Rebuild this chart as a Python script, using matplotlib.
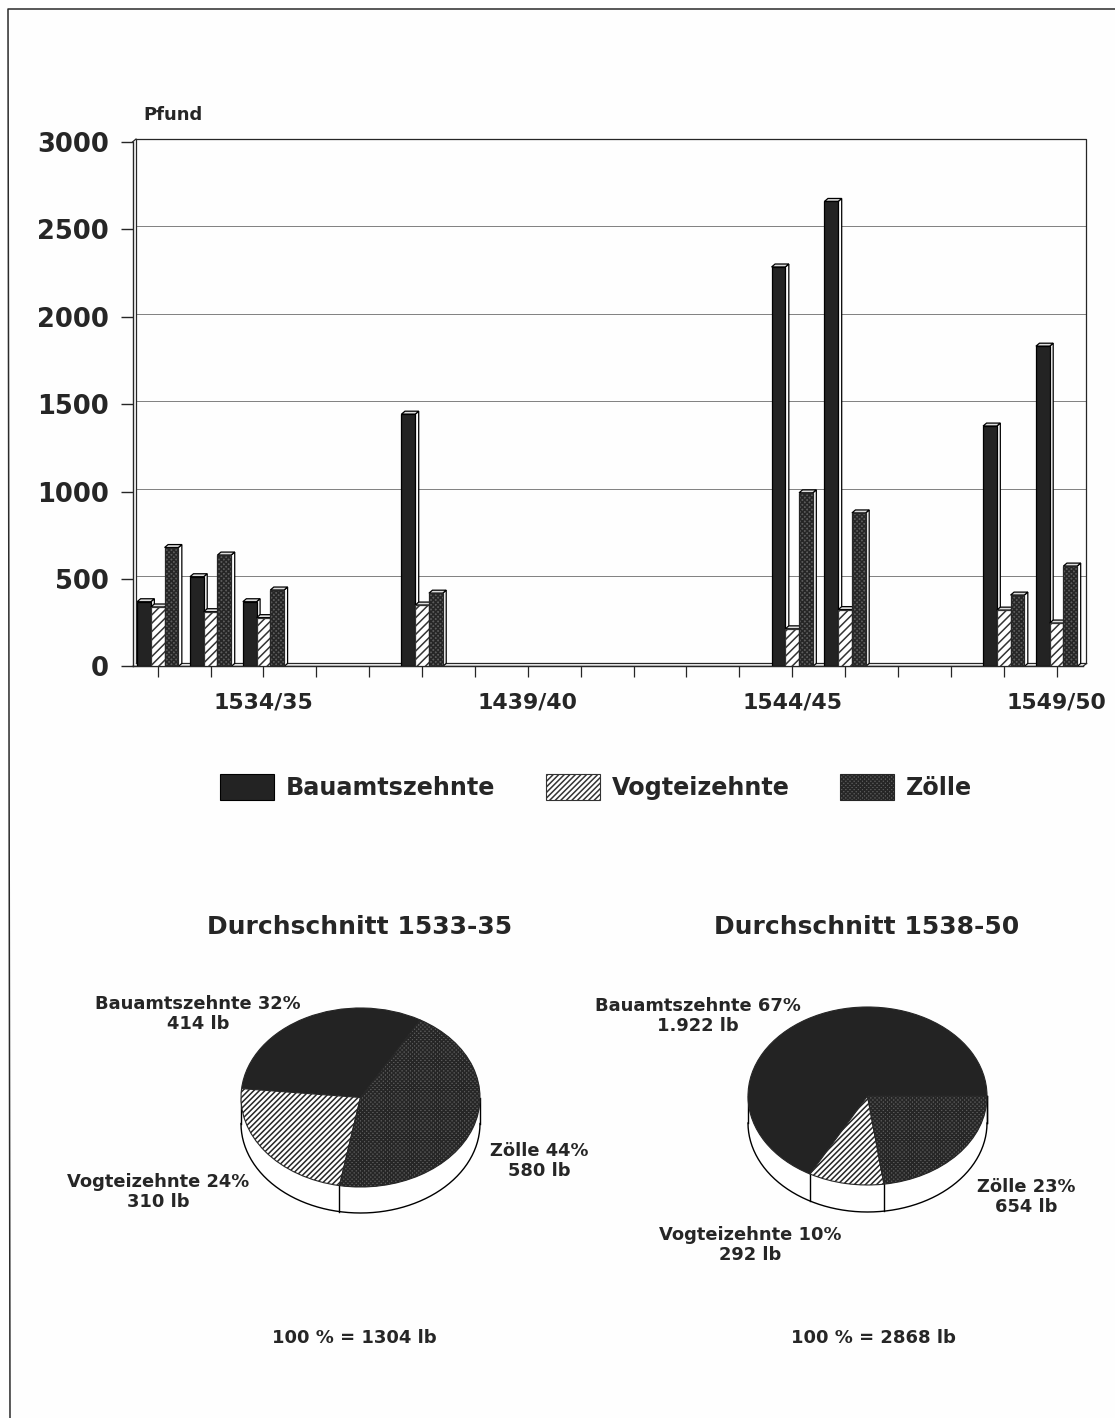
import matplotlib
matplotlib.use("Agg")
import matplotlib.pyplot as plt
import numpy as np
from matplotlib.lines import Line2D
from matplotlib.patches import Patch, Polygon

W, H = 1115, 1418
INK = "#262626"
PAPER = "#fefefe"
DARK = "#232323"
HALF = "#5c5c5c"
HALF_EDGE = "#262626"

# bar chart data
year_idx = [0, 1, 2, 5, 12, 13, 16, 17]
bauamt = [370, 513, 370, 1443, 2285, 2660, 1375, 1832]
vogtei = [340, 313, 279, 351, 215, 325, 322, 248]
zoelle = [680, 637, 437, 419, 993, 878, 408, 574]
n_years = 18
period_labels = {2: "1534/35", 7: "1439/40", 12: "1544/45", 17: "1549/50"}
y_ticks = [0, 500, 1000, 1500, 2000, 2500, 3000]

# pie data
pie_names = ["Bauamtszehnte", "Vogteizehnte", "Zölle"]
pie_left = [414, 310, 580]
pie_right = [1922, 292, 654]

plt.rcParams["font.family"] = "DejaVu Sans"
plt.rcParams["font.weight"] = "bold"
plt.rcParams["hatch.linewidth"] = 1.1
plt.rcParams["text.color"] = INK

BAR_W = 0.26
DX = 3.5 / 52.88
DY = 17.0


def px_axes(fig, x0, y0, x1, y1):
    # pixel box, y measured from the top of the image
    return fig.add_axes([x0 / W, 1 - y1 / H, (x1 - x0) / W, (y1 - y0) / H])


def label(fig, x, y, s, size):
    fig.text(x / W, 1 - y / H, s, ha="center", va="center", fontsize=size,
             fontweight="bold", linespacing=1.12)


def bar3d(ax, x, h, color, hatch, edge, z):
    left, right = x, x + BAR_W
    ax.add_patch(Polygon([(right, 0), (right + DX, DY), (right + DX, h + DY), (right, h)],
                         fc="white", ec="black", lw=0.9, zorder=z))
    ax.add_patch(Polygon([(left, h), (left + DX, h + DY), (right + DX, h + DY), (right, h)],
                         fc="#dddddd", ec="black", lw=0.9, zorder=z))
    ax.bar(x, h, BAR_W, align="edge", color=color, hatch=hatch, edgecolor=edge, lw=0.9, zorder=z + 0.1)


def draw_bars(fig):
    ax = px_axes(fig, 132.5, 142, 1083, 666.4)
    ax.set_facecolor("none")
    xmin, xmax = -0.477, 17.5
    ax.set_xlim(xmin, xmax)
    ax.set_ylim(0, 3000)

    for side in ("top", "right"):
        ax.spines[side].set_visible(False)
    for side in ("left", "bottom"):
        ax.spines[side].set_linewidth(1.0)
        ax.spines[side].set_color(INK)

    # back wall and floor
    ax.hlines(np.array(y_ticks[1:-1]) + DY, xmin + DX, xmax + DX, color="#808080", lw=0.7,
              zorder=1, clip_on=False)
    wall = dict(color=INK, lw=0.9, zorder=1.5, clip_on=False)
    ax.plot([xmin + DX, xmin + DX, xmax + DX, xmax + DX], [DY, 3000 + DY, 3000 + DY, DY], **wall)
    ax.plot([xmin, xmin + DX], [3000, 3000 + DY], **wall)
    ax.plot([xmin + DX, xmax + DX], [DY, DY], **wall)
    ax.plot([xmin, xmax, xmax + DX], [0, 0, DY], **wall)

    for i, idx in enumerate(year_idx):
        base = idx - 1.5 * BAR_W
        bar3d(ax, base, bauamt[i], DARK, None, "black", 3 + i)
        bar3d(ax, base + BAR_W, vogtei[i], "white", "////", "#333333", 3.3 + i)
        bar3d(ax, base + 2 * BAR_W, zoelle[i], HALF, "xxxxxxx", HALF_EDGE, 3.6 + i)

    ax.set_yticks(y_ticks)
    ax.set_xticks(range(n_years))
    ax.set_xticklabels([period_labels.get(i, "") for i in range(n_years)])
    ax.tick_params(axis="y", length=9, width=1.0, pad=8, labelsize=18.5, color=INK, labelcolor=INK)
    ax.tick_params(axis="x", length=8, width=0.9, pad=11, labelsize=15.8, color=INK, labelcolor=INK)
    return ax


def draw_pie(fig, box, values, start):
    x0, y0, x1, y1, depth_px = box
    ax = px_axes(fig, x0, y0, x1, y1 + depth_px)
    ax.pie(values, startangle=start, counterclock=True, radius=1,
           colors=[DARK, "white", HALF], hatch=[None, "//////", "xxxxxxxx"],
           wedgeprops=dict(edgecolor=HALF_EDGE, linewidth=0.8), frame=False)
    depth = depth_px / ((y1 - y0) / 2)
    ax.set_aspect("auto")
    ax.set_xlim(-1, 1)
    ax.set_ylim(-1 - depth, 1)
    ax.set_xticks([])
    ax.set_yticks([])
    for p in ax.patches:
        p.set_clip_on(False)
        p.set_zorder(3)

    # rim below the front half
    t = np.radians(np.linspace(180, 360, 181))
    ax.fill_between(np.cos(t), np.sin(t), np.sin(t) - depth, color="white", zorder=1)
    ax.plot(np.cos(t), np.sin(t) - depth, color="black", lw=1.0, zorder=2, clip_on=False)
    edges = start + 360 * np.cumsum(values) / np.sum(values)
    for a in np.append(edges % 360, [180, 360]):
        if a >= 180 or a == 0:
            r = np.radians(a)
            ax.plot([np.cos(r)] * 2, [np.sin(r), np.sin(r) - depth], color="black", lw=1.0,
                    zorder=2, clip_on=False)
    return ax


def main():
    fig = plt.figure(figsize=(W / 100, H / 100), dpi=100, facecolor=PAPER)

    # page border, only left and top are on the scan
    fig.add_artist(Line2D([10 / W, 8 / W, 1], [0, 1 - 9 / H, 1 - 9 / H], color="#2a2a2a", lw=1.1))

    draw_bars(fig)
    label(fig, 173, 115, "Pfund", 13)

    handles = [
        Patch(fc=DARK, ec="black", lw=0.8),
        Patch(fc="white", ec="#333333", lw=0.8, hatch="//////"),
        Patch(fc=HALF, ec=HALF_EDGE, lw=0.8, hatch="xxxxxxxx"),
    ]
    fig.legend(handles, pie_names, loc="center", bbox_to_anchor=(596 / W, 1 - 787 / H), ncols=3,
               frameon=False, fontsize=17.2, handlelength=2.27, handleheight=1.3,
               handletextpad=0.5, columnspacing=2.1, borderpad=0, borderaxespad=0)

    label(fig, 360, 927, "Durchschnitt 1533-35", 18)
    label(fig, 867, 927, "Durchschnitt 1538-50", 18)

    draw_pie(fig, (241, 1008, 480, 1187, 26), pie_left, 60)
    draw_pie(fig, (748, 1007, 987, 1185, 27), pie_right, 0)

    label(fig, 198, 1014, "Bauamtszehnte 32%\n414 lb", 12.9)
    label(fig, 158, 1192, "Vogteizehnte 24%\n310 lb", 12.9)
    label(fig, 539, 1161, "Zölle 44%\n580 lb", 12.9)
    label(fig, 698, 1016, "Bauamtszehnte 67%\n1.922 lb", 12.9)
    label(fig, 1026, 1197, "Zölle 23%\n654 lb", 12.9)
    label(fig, 750, 1245, "Vogteizehnte 10%\n292 lb", 12.9)
    label(fig, 354, 1338, "100 % = 1304 lb", 13)
    label(fig, 873, 1338, "100 % = 2868 lb", 13)

    fig.savefig("out.png", dpi=100, facecolor=PAPER)


if __name__ == "__main__":
    main()
